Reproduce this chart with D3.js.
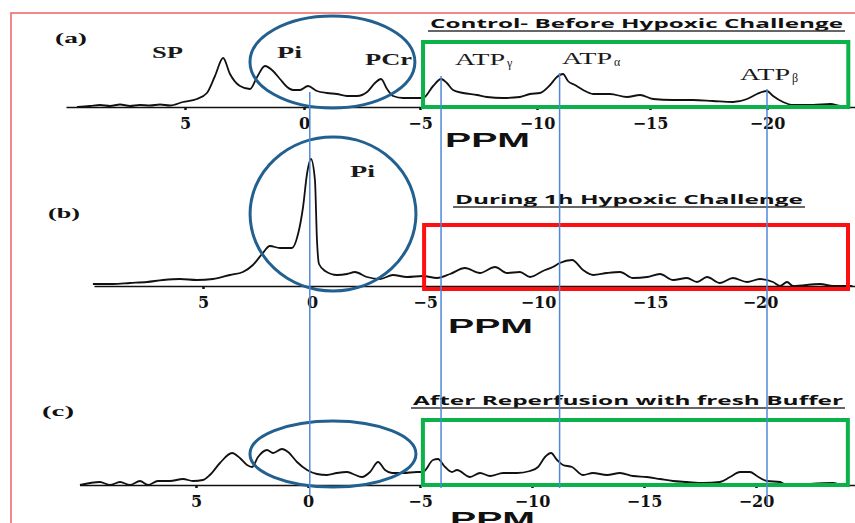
<!DOCTYPE html>
<html>
<head>
<meta charset="utf-8">
<script src="https://cdn.jsdelivr.net/npm/d3@7"></script>
<style>
  body { margin: 0; background: #fff; }
  .axis path, .axis line { stroke: #111; }
  .axis path { stroke-width: 1.6px; }
  .axis line { stroke-width: 2.5px; }
  .trace { fill: none; stroke: #111; stroke-width: 1.8px; stroke-linejoin: round; }
  .peak { font-family: "Liberation Serif", "Times New Roman", serif; font-size: 15px; fill: #1a1a1a; }
  .panel-tag { font-family: "Liberation Serif", "Times New Roman", serif; font-weight: bold; font-size: 15px; fill: #111; }
  .title { font-family: "Open Sans", "Liberation Sans", sans-serif; font-weight: bold; font-size: 13px; fill: #111; }
  .ppm { font-family: "Liberation Sans", Arial, sans-serif; font-weight: bold; font-size: 21px; fill: #111; }
</style>
</head>
<body>
<div id="chart"></div>
<script>
// tick values shared by the three spectra (chemical shift, ppm)
const tickValues = [5, 0, -5, -10, -15, -20];

// (a) Control - before hypoxic challenge
const ppmA = [9.54, 9.0, 8.57, 8.15, 7.73, 7.31, 6.9, 6.47, 6.05, 5.63, 5.08, 4.5, 4.08, 3.74, 3.40, 3.11, 2.69, 2.27, 1.97, 1.64,
  1.30, 1.01, 0.71, 0.46, 0.17, -0.17, -0.56, -0.99, -1.42, -1.85, -2.28, -2.72, -3.06, -3.32, -3.58, -3.84, -4.27, -4.70,
  -5.13, -5.56, -5.90, -6.15, -6.41, -6.84, -7.44, -7.86, -8.55, -9.27, -9.70, -10.13, -10.58, -10.88, -11.15, -11.37,
  -11.68, -12.04, -12.48, -13.23, -13.98, -14.56, -15.13, -15.98, -16.84, -17.69, -18.55, -19.15, -19.57, -20.0, -20.26,
  -20.68, -21.11, -21.97, -22.69, -23.12, -23.5];
const intA = [0, 1, 2, 1, 2.5, 1, 2, 1.5, 2.5, 1.5, 5, 8, 14, 31, 49, 33, 21, 18, 30, 41,
  36, 28, 20, 17, 17, 21, 16, 14, 13, 11, 11, 15, 24, 28, 18, 11, 9, 9,
  9, 21, 28, 24, 17, 14, 12, 10, 9, 10, 13, 14, 22, 30, 33, 26,
  22, 17, 13, 13, 10, 12, 8, 7, 7, 6, 5, 8, 13, 16, 11,
  5, 2, 2, 3, 1, 0];

// (b) During 1h hypoxic challenge
const ppmB = [10.05, 9.13, 8.35, 7.57, 6.83, 6.06, 5.28, 4.54, 3.76, 3.17, 2.71, 2.29, 1.93, 1.47, 0.92, 0.64, 0.41, 0.23, 0.05,
  -0.13, -0.22, -0.31, -0.58, -1.11, -1.55, -1.90, -2.43, -3.01, -3.58, -4.20, -4.91, -5.53, -6.11, -6.77, -7.43, -8.10,
  -8.63, -9.20, -9.65, -10.22, -10.66, -10.97, -11.52, -12.01, -12.46, -13.08, -13.66, -14.24, -14.87, -15.45, -16.05,
  -16.68, -17.14, -17.59, -18.18, -18.77, -19.41, -20.0, -20.59, -20.91, -21.23, -21.5, -22.73, -23.32, -24.2];
const intB = [2, 2, 3, 4, 6, 7, 6, 7, 11, 14, 21, 32, 40, 38, 38, 52, 79, 112, 127,
  106, 46, 22, 15, 11, 12, 14, 9, 7, 11, 9, 10, 8, 12, 18, 13, 19,
  13, 14, 9, 15, 19, 23, 26, 16, 11, 13, 14, 8, 9, 12, 6,
  8, 4, 9, 3, 8, 4, 7, 4, 0, 4, 0, 2, 0, 0];

// (c) After reperfusion with fresh buffer
const ppmC = [10.18, 9.29, 8.84, 8.39, 7.95, 7.5, 7.14, 6.70, 6.16, 5.58, 5.13, 4.69, 4.38, 3.93, 3.39, 3.04, 2.72, 2.5, 2.23,
  1.83, 1.56, 1.16, 0.89, 0.49, 0.04, -0.40, -0.85, -1.29, -1.74, -2.01, -2.41, -2.77, -3.13, -3.44, -3.75, -4.24, -4.87,
  -5.13, -5.58, -5.80, -6.12, -6.43, -6.65, -7.23, -7.68, -8.13, -8.71, -9.33, -9.91, -10.27, -10.58, -10.85, -11.12,
  -11.38, -11.79, -12.28, -12.72, -13.35, -13.93, -14.51, -15.13, -15.71, -16.29, -16.92, -17.63, -18.39, -18.84, -19.29,
  -19.73, -20.04, -20.49, -21.07, -21.38, -23.44, -23.75];
const intC = [0, 3, 0, 3, 0, 4, 0, 4, 4, 6, 4, 5, 10, 22, 32, 27, 20, 18, 28,
  35, 32, 36, 33, 23, 15, 11, 10, 12, 13, 11, 8, 13, 23, 15, 12, 12, 13,
  13, 25, 26, 18, 13, 15, 8, 12, 9, 12, 12, 14, 18, 28, 32, 25,
  20, 18, 10, 12, 10, 12, 9, 8, 6, 4, 3, 2, 3, 8, 13,
  13, 9, 4, 3, 0, 2, 0];

// peak assignments in panel (a): name, subscript, ppm and height of the label
const peakNames = ["SP", "Pi", "PCr", "ATP", "ATP", "ATP"];
const peakSubs = ["", "", "", "\u03b3", "\u03b1", "\u03b2"];
const peakPpm = [6.39, 1.13, -2.63, -6.50, -11.11, -18.85];
const peakLevel = [49, 49, 42, 42, 43, 27];
const peakWidth = [31, 25, 47, 50, 50, 50];

// blue guide lines through the Pi and ATP resonances
const guidePpm = [-0.25, -5.9, -11.0, -20.0];
const guideTop = [15, 31, 34, 18];      // height in panel (a)
const guideBottom = [-10, -3, -3, -20]; // height in panel (c)

const fmt = d => d < 0 ? "\u2212" + Math.abs(d) : String(d);

const svg = d3.select("#chart").append("svg")
    .attr("width", 855)
    .attr("height", 523);

// outer frame of the figure
svg.append("rect")
    .attr("x", 11).attr("y", 13)
    .attr("width", 900).attr("height", 600)
    .attr("fill", "none")
    .attr("stroke", "#f26a6a")
    .attr("stroke-width", 1.6);

// each panel: its own scanned scale, a title and annotation shapes
const panels = [
    {
        tag: "(a)", tagX: 55, tagY: 43, base: 107,
        xDomain: [10, 5, 0, -5, -10, -15, -20, -24], xRange: [66, 185, 304, 420, 537, 650, 767, 861],
        ppm: ppmA, inten: intA,
        title: "Control- Before Hypoxic Challenge", titleX: [430, 843], titleY: 28,
        ellipse: [2.27, -4.78, 91, -1],
        box: [-5.13, -23.46, 65, 0], boxColor: "#0bb24a",
        ppmLabel: [445, 147]
    },
    {
        tag: "(b)", tagX: 48, tagY: 218, base: 286,
        xDomain: [10, 5, 0, -5, -10, -15, -20, -25], xRange: [94, 203, 312, 425, 538, 650, 760, 870],
        ppm: ppmB, inten: intB,
        title: "During 1h Hypoxic Challenge", titleX: [455, 803], titleY: 204,
        ellipse: [2.84, -4.60, 149, -5],
        box: [-4.96, -24.0, 61, -3], boxColor: "#ff1010",
        ppmLabel: [448, 333]
    },
    {
        tag: "(c)", tagX: 42, tagY: 416, base: 485,
        xDomain: [10.2, -24.5], xRange: [79.5, 856.8],
        ppm: ppmC, inten: intC,
        title: "After Reperfusion with fresh Buffer", titleX: [413, 843], titleY: 405,
        ellipse: [2.59, -4.82, 64, -2],
        box: [-5.13, -24.1, 65, 0], boxColor: "#0bb24a",
        ppmLabel: [450, 526]
    }
];

panels.forEach(p => {
    p.x = d3.scaleLinear().domain(p.xDomain).range(p.xRange);
    p.y = d3.scaleLinear().domain([0, 100]).range([p.base, p.base - 100]);

    const g = svg.append("g");

    // x axis
    const ax = g.append("g")
        .attr("class", "axis")
        .attr("transform", "translate(0," + p.base + ")")
        .call(d3.axisBottom(p.x).tickValues(tickValues).tickFormat(fmt).tickSize(3).tickSizeOuter(0).tickPadding(8));
    ax.attr("font-size", 16).attr("font-family", "'DejaVu Serif', 'Liberation Serif', serif");
    ax.selectAll("text")
        .style("font-weight", "bold")
        .style("fill", "#111");

    // spectrum
    const line = d3.line()
        .curve(d3.curveMonotoneX)
        .x(d => p.x(d[0]))
        .y(d => p.y(d[1]));
    g.append("path")
        .attr("class", "trace")
        .attr("d", line(d3.zip(p.ppm, p.inten)));

    // highlight boxes
    const b = p.box;
    g.append("rect")
        .attr("x", p.x(b[0]))
        .attr("y", p.y(b[2]))
        .attr("width", p.x(b[1]) - p.x(b[0]))
        .attr("height", p.y(b[3]) - p.y(b[2]))
        .attr("fill", "none")
        .attr("stroke", p.boxColor)
        .attr("stroke-width", 4);

    // ellipse round the Pi region
    const e = p.ellipse;
    g.append("ellipse")
        .attr("cx", (p.x(e[0]) + p.x(e[1])) / 2)
        .attr("cy", (p.y(e[2]) + p.y(e[3])) / 2)
        .attr("rx", (p.x(e[1]) - p.x(e[0])) / 2)
        .attr("ry", (p.y(e[3]) - p.y(e[2])) / 2)
        .attr("fill", "none")
        .attr("stroke", "#22608f")
        .attr("stroke-width", 3);

    // panel tag
    g.append("text")
        .attr("class", "panel-tag")
        .attr("x", p.tagX).attr("y", p.tagY)
        .attr("textLength", 32)
        .attr("lengthAdjust", "spacingAndGlyphs")
        .text(p.tag);

    // underlined title
    g.append("text")
        .attr("class", "title")
        .attr("x", p.titleX[0]).attr("y", p.titleY)
        .attr("textLength", p.titleX[1] - p.titleX[0])
        .attr("lengthAdjust", "spacingAndGlyphs")
        .text(p.title);
    g.append("line")
        .attr("x1", p.titleX[0] - 2).attr("x2", p.titleX[1] + 2)
        .attr("y1", p.titleY + 3).attr("y2", p.titleY + 3)
        .attr("stroke", "#333").attr("stroke-width", 1.3);

    // PPM axis label
    g.append("text")
        .attr("class", "ppm")
        .attr("x", p.ppmLabel[0]).attr("y", p.ppmLabel[1])
        .attr("textLength", 85)
        .attr("lengthAdjust", "spacingAndGlyphs")
        .text("PPM");
});

const pa = panels[0], pb = panels[1], pc = panels[2];

// peak labels in panel (a)
peakNames.forEach((name, i) => {
    const t = svg.append("text")
        .attr("class", "peak")
        .attr("x", pa.x(peakPpm[i]))
        .attr("y", pa.y(peakLevel[i]))
        .style("font-weight", i < 3 ? "bold" : "normal")
        .style("font-size", "16px");
    t.append("tspan")
        .attr("textLength", peakWidth[i])
        .attr("lengthAdjust", "spacingAndGlyphs")
        .text(name);
    if (peakSubs[i]) {
        t.append("tspan")
            .attr("dy", 2)
            .attr("dx", 2)
            .style("font-size", "12px")
            .text(peakSubs[i]);
    }
});

// Pi label in panel (b)
svg.append("text")
    .attr("class", "peak")
    .style("font-weight", "bold")
    .style("font-size", "16px")
    .attr("x", pb.x(-1.68))
    .attr("y", pb.y(109))
    .attr("textLength", 25)
    .attr("lengthAdjust", "spacingAndGlyphs")
    .text("Pi");

// guide lines running down through all three spectra
svg.selectAll(".guide")
    .data(guidePpm)
    .enter().append("line")
    .attr("class", "guide")
    .attr("x1", d => pa.x(d))
    .attr("x2", d => pa.x(d))
    .attr("y1", (d, i) => pa.y(guideTop[i]))
    .attr("y2", (d, i) => pc.y(guideBottom[i]))
    .attr("stroke", "#4f88d6")
    .attr("stroke-width", 1.5);
</script>
</body>
</html>
